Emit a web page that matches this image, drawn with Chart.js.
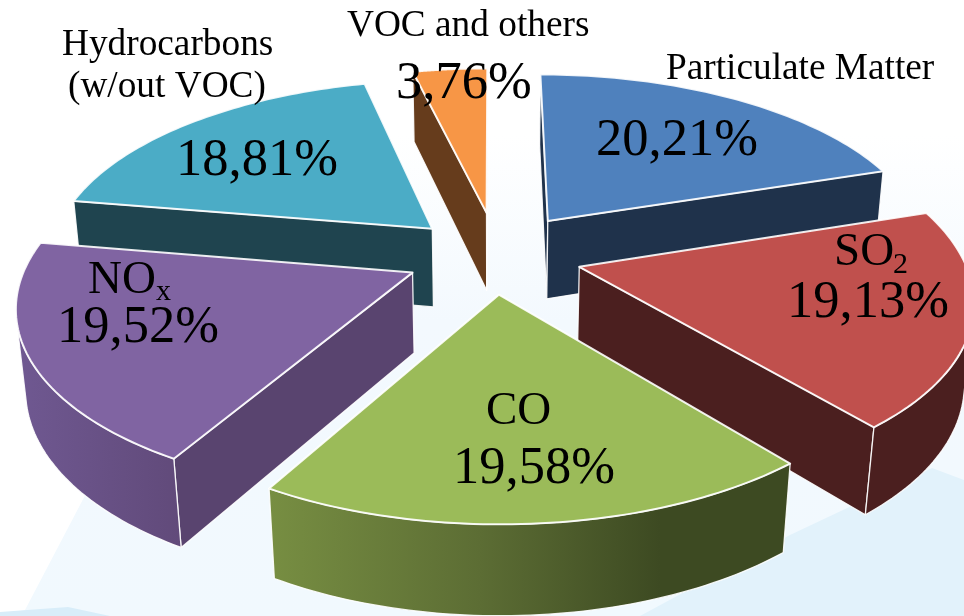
<!DOCTYPE html>
<html lang="en">
<head>
<meta charset="UTF-8" />
<title>Air pollutant shares</title>
<script src="https://cdn.jsdelivr.net/npm/chart.js"></script>
<style>
  html, body { margin: 0; padding: 0; }
  body {
    position: relative;
    width: 964px;
    height: 616px;
    overflow: hidden;
    background: linear-gradient(180deg, #ffffff 22%, #f3f9fe 52%, #f1f9fe 100%);
  }
  .wash { position: absolute; inset: 0; }
  .wash.left { background: #ffffff; clip-path: polygon(0 0, 232px 215px, 25px 610px, 0 616px); }
  .wash.corner { background: #d8edf9; clip-path: polygon(0 616px, 0 612px, 68px 607px, 110px 616px); }
  .wash.right { background: #e2f2fb; clip-path: polygon(640px 616px, 790px 535px, 932px 468px, 964px 480px, 964px 616px); }
  canvas { display: block; position: relative; }
</style>
</head>
<body>
<div class="wash left"></div>
<div class="wash corner"></div>
<div class="wash right"></div>
<canvas id="pie" width="964" height="616"></canvas>
<script>
// Shares per pollutant, clockwise from the top
const categories = ["Particulate Matter", "SO2", "CO", "NOx", "Hydrocarbons (w/out VOC)", "VOC and others"];
const shares = [20.21, 19.13, 19.58, 19.52, 18.81, 3.76];

const topColors = ["#4f81bd", "#c0504d", "#9bbb59", "#8064a2", "#4bacc6", "#f79646"];
const wallColors = ["#1f324b", "#4b1f1f", "#3d4a22", "#59446f", "#1f444f", "#663c1c"];
const explode = [98, 89, 78, 85, 87, 98];
// Small turn (degrees) of the direction each slice is pulled out in
const explodeTurn = [0, -2.6, 0, 2.5, 2.2, 3.4];

// Back slices first so the front ones cover them
const drawOrder = [5, 0, 4, 1, 3, 2];

// Perspective camera looking down on the pie
const cam = { vx: 492, horizon: -883, h: 1140, drop: 104, radius: 384, persp: 0.158, sink: 0.02 };

function project(X, Y, z) {
  const w = 1 - cam.persp * Y / cam.radius + cam.sink * z;
  return { x: cam.vx + X / w, y: cam.horizon + (cam.h + cam.drop * z) / w };
}

function tracePath(ctx, pts) {
  ctx.beginPath();
  pts.forEach((p, i) => i ? ctx.lineTo(p.x, p.y) : ctx.moveTo(p.x, p.y));
  ctx.closePath();
}

function area(pts) {
  let a = 0;
  pts.forEach((p, i) => {
    const q = pts[(i + 1) % pts.length];
    a += p.x * q.y - q.x * p.y;
  });
  return a / 2;
}

function face(ctx, pts, fill, lineWidth) {
  tracePath(ctx, pts);
  ctx.fillStyle = fill;
  ctx.fill();
  ctx.lineJoin = "round";
  ctx.lineWidth = lineWidth;
  ctx.strokeStyle = "rgba(255,255,255,0.9)";
  ctx.stroke();
}

// The curved outer walls get a sideways shading on two of the slices
function curvedFill(ctx, i) {
  const stops = {
    2: [[270, "#778e42"], [480, "#5c6d34"], [660, "#3d4a22"], [800, "#3d4a22"]],
    3: [[20, "#6f5891"], [180, "#614a7a"]]
  }[i];
  if (!stops) return wallColors[i];
  const g = ctx.createLinearGradient(stops[0][0], 0, stops[stops.length - 1][0], 0);
  const span = stops[stops.length - 1][0] - stops[0][0];
  stops.forEach(s => g.addColorStop((s[0] - stops[0][0]) / span, s[1]));
  return g;
}

function drawSlice(ctx, arc, i) {
  const a0 = arc.startAngle, a1 = arc.endAngle;
  const mid = (a0 + a1) / 2 + explodeTurn[i] * Math.PI / 180;
  const ox = Math.cos(mid) * arc.options.offset;
  const oy = Math.sin(mid) * arc.options.offset;
  const at = (a, z) => project(ox + Math.cos(a) * cam.radius, oy + Math.sin(a) * cam.radius, z);
  const centre = z => project(ox, oy, z);

  const steps = 60;
  const angles = [];
  for (let k = 0; k <= steps; k++) angles.push(a0 + (a1 - a0) * k / steps);

  // Flat cut faces, only those turned towards the camera
  [[a0, 1], [a1, -1]].forEach(([a, sign]) => {
    const quad = [centre(0), at(a, 0), at(a, 1), centre(1)];
    if (area(quad) * sign < 0) face(ctx, quad, wallColors[i], 1.3);
  });

  // Rim of the slice, the part that faces front
  const visible = [];
  for (let k = 0; k < steps; k++) {
    const seg = [at(angles[k], 0), at(angles[k + 1], 0), at(angles[k + 1], 1), at(angles[k], 1)];
    if (area(seg) < 0) visible.push(k);
  }
  if (visible.length) {
    const first = visible[0], last = visible[visible.length - 1] + 1;
    const rim = [];
    for (let k = first; k <= last; k++) rim.push(at(angles[k], 0));
    for (let k = last; k >= first; k--) rim.push(at(angles[k], 1));
    face(ctx, rim, curvedFill(ctx, i), 1.3);
  }

  // Top surface
  const top = [centre(0)].concat(angles.map(a => at(a, 0)));
  face(ctx, top, topColors[i], 2);
}

const fmt = v => v.toFixed(2).replace(".", ",") + "%";

// Text placement: left edge and baseline for each value and name part
const nameFont = 37.3, valueFont = 52.5, insideFont = 47, subFont = 30;
const labelLayout = [
  { value: [596, 155], name: [["Particulate Matter", 666, 79, nameFont]] },
  { value: [787, 317], name: [["SO", 834, 265, insideFont], ["2", 893, 273, subFont]] },
  { value: [453, 483], name: [["CO", 486, 424, insideFont]] },
  { value: [57, 342], name: [["NO", 88, 293, insideFont], ["x", 156, 300, subFont]] },
  { value: [176, 175], name: [["Hydrocarbons", 62, 55, nameFont], ["(w/out VOC)", 68, 97, nameFont]] },
  { value: [396, 98], name: [["VOC and others", 347, 36, nameFont]] }
];

const pie3d = {
  id: "pie3d",
  beforeDatasetDraw(chart) {
    const ctx = chart.ctx;
    const arcs = chart.getDatasetMeta(0).data;
    ctx.save();
    drawOrder.forEach(i => drawSlice(ctx, arcs[i], i));
    ctx.restore();
    return false;
  },
  afterDraw(chart) {
    const ctx = chart.ctx;
    ctx.save();
    ctx.fillStyle = "#000";
    ctx.textAlign = "left";
    ctx.textBaseline = "alphabetic";
    labelLayout.forEach((l, i) => {
      l.name.forEach(([txt, x, y, size]) => {
        ctx.font = size + "px 'Liberation Serif'";
        ctx.fillText(txt, x, y);
      });
      ctx.font = valueFont + "px 'Liberation Serif'";
      ctx.fillText(fmt(shares[i]), l.value[0], l.value[1]);
    });
    ctx.restore();
  }
};

new Chart(document.getElementById("pie"), {
  type: "pie",
  data: {
    labels: categories,
    datasets: [{
      data: shares,
      backgroundColor: topColors,
      offset: explode,
      borderWidth: 0
    }]
  },
  options: {
    responsive: false,
    animation: false,
    rotation: 0,
    plugins: { legend: { display: false }, tooltip: { enabled: false } }
  },
  plugins: [pie3d]
});
</script>
</body>
</html>
